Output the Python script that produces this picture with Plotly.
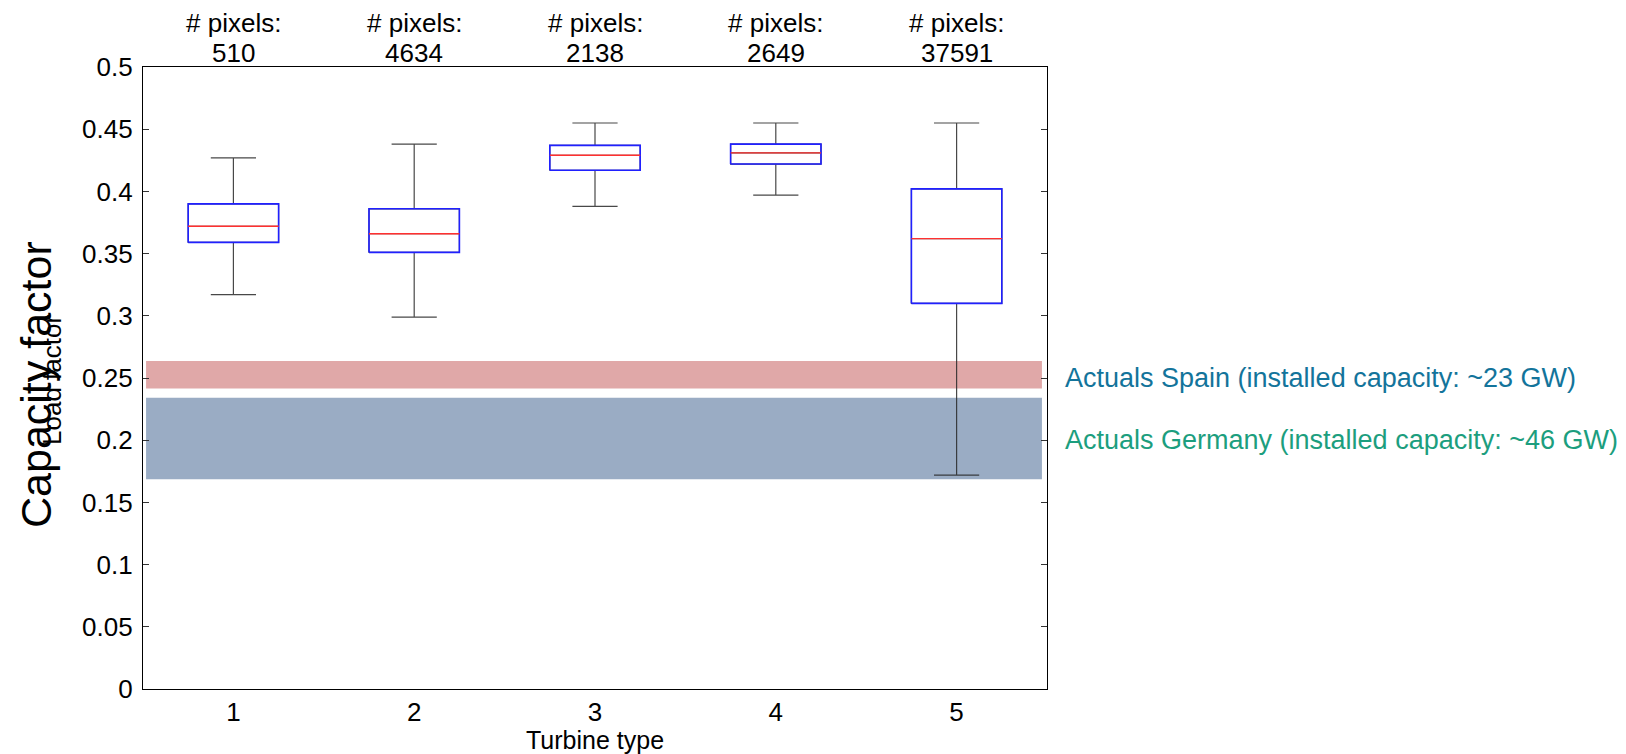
import plotly.graph_objects as go

# ---------------- data ----------------
turbine_types = [1, 2, 3, 4, 5]
pixel_counts = [510, 4634, 2138, 2649, 37591]
lower_whisker = [0.317, 0.299, 0.388, 0.397, 0.172]
q1 = [0.359, 0.351, 0.417, 0.422, 0.310]
median = [0.372, 0.366, 0.429, 0.431, 0.362]
q3 = [0.390, 0.386, 0.437, 0.438, 0.402]
upper_whisker = [0.427, 0.438, 0.455, 0.455, 0.455]

band_names = ["Actuals Spain (installed capacity: ~23 GW)",
              "Actuals Germany (installed capacity: ~46 GW)"]
band_low = [0.2415, 0.1687]
band_high = [0.2637, 0.2342]
band_label_y = [0.25, 0.20]

# ---------------- style ----------------
FONT = "Arial, Liberation Sans, sans-serif"
band_fill = ["#E0A8A8", "#9AACC4"]
band_text = ["#13749B", "#1C9E7E"]
half_w = 0.25
x_range = [0.5, 5.5]

fig = go.Figure()

# whiskers (black) via box trace
fig.add_trace(go.Box(
    x=turbine_types, q1=q1, median=median, q3=q3,
    lowerfence=lower_whisker, upperfence=upper_whisker,
    width=2 * half_w, whiskerwidth=0.5,
    line=dict(color="rgba(40,40,40,0.85)", width=1.2),
    fillcolor="rgba(255,255,255,1)", boxpoints=False,
    hoverinfo="skip", showlegend=False))

# blue box outlines
bx, by = [], []
for t, a, b in zip(turbine_types, q1, q3):
    bx += [t - half_w, t + half_w, t + half_w, t - half_w, t - half_w, None]
    by += [a, a, b, b, a, None]
fig.add_trace(go.Scatter(x=bx, y=by, mode="lines",
                         line=dict(color="#2020FF", width=1.6),
                         hoverinfo="skip", showlegend=False))

# red medians
mx, my = [], []
for t, m in zip(turbine_types, median):
    mx += [t - half_w, t + half_w, None]
    my += [m, m, None]
fig.add_trace(go.Scatter(x=mx, y=my, mode="lines",
                         line=dict(color="#FF3030", width=1.4),
                         hoverinfo="skip", showlegend=False))

shapes = []
annotations = []
for lo, hi, col, name, ly, tc in zip(band_low, band_high, band_fill,
                                     band_names, band_label_y, band_text):
    shapes.append(dict(type="rect", xref="x", yref="y",
                       x0=x_range[0] + 0.017, x1=x_range[1] - 0.028,
                       y0=lo, y1=hi, fillcolor=col, line=dict(width=0),
                       layer="below"))
    annotations.append(dict(xref="paper", yref="y", x=1.0177, y=ly,
                            xanchor="left", yanchor="middle", showarrow=False,
                            text=name, font=dict(family=FONT, size=27, color=tc)))

for t, n in zip(turbine_types, pixel_counts):
    annotations.append(dict(xref="x", yref="paper", x=t, y=1.070,
                            xanchor="center", yanchor="middle", showarrow=False,
                            text="# pixels:", font=dict(family=FONT, size=26, color="black")))
    annotations.append(dict(xref="x", yref="paper", x=t, y=1.022,
                            xanchor="center", yanchor="middle", showarrow=False,
                            text=str(n), font=dict(family=FONT, size=26, color="black")))

# axis titles
annotations.append(dict(xref="paper", yref="paper", x=0.5, y=-0.0814,
                        xanchor="center", yanchor="middle", showarrow=False,
                        text="Turbine type", font=dict(family=FONT, size=25, color="black")))
annotations.append(dict(xref="paper", yref="paper", x=(36 - 143) / 904, y=(689.3 - 385) / 622.6,
                        xanchor="center", yanchor="middle", showarrow=False, textangle=-90,
                        text="Capacity factor", font=dict(family=FONT, size=43, color="black")))
annotations.append(dict(xref="paper", yref="paper", x=(52 - 143) / 904, y=(689.3 - 380) / 622.6,
                        xanchor="center", yanchor="middle", showarrow=False, textangle=-90,
                        text="Load factor", font=dict(family=FONT, size=26, color="black")))

fig.update_layout(
    width=1626, height=754,
    margin=dict(l=143, r=579, t=67, b=65),
    plot_bgcolor="white", paper_bgcolor="white",
    shapes=shapes, annotations=annotations,
    font=dict(family=FONT, color="black"),
    xaxis=dict(range=x_range, tickvals=turbine_types, ticks="",
               showline=True, mirror=True, linecolor="black", linewidth=1.2,
               showgrid=False, zeroline=False,
               tickfont=dict(family=FONT, size=26, color="black")),
    yaxis=dict(range=[0, 0.5], tick0=0, dtick=0.05, ticks="inside", ticklen=6,
               tickcolor="#333333", showline=True, mirror="ticks",
               linecolor="black", linewidth=1.2, showgrid=False, zeroline=False,
               ticklabelstandoff=4,
               tickfont=dict(family=FONT, size=26, color="black")),
)

fig.write_html("out.html")
